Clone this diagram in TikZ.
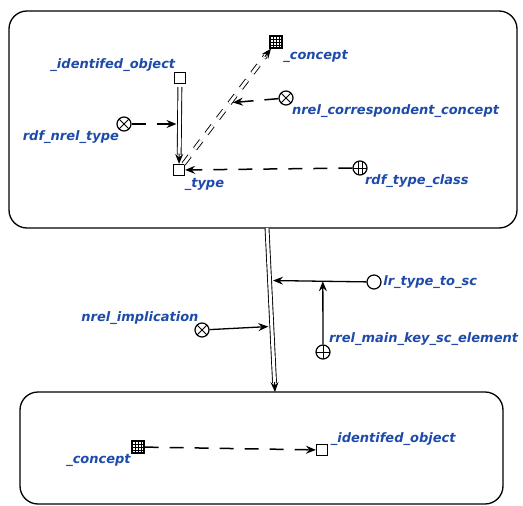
\documentclass[tikz,border=0pt]{standalone}
\usepackage{fontspec}
\setsansfont{DejaVu Sans}
\usepackage{tikz}
\usetikzlibrary{shapes, positioning}
\usetikzlibrary{calc}
\usetikzlibrary{arrows.meta}
\definecolor{scblue}{RGB}{30,75,170}

\tikzset{
	sclabel/.style={text=scblue, font=\sffamily\bfseries\itshape\fontsize{13}{15}\selectfont, inner sep=0.5pt},
	scframe/.style={draw, line width=1.3pt, rounded corners=18pt},
	scconst/.style={draw, line width=1.2pt, rectangle, minimum size=11pt, inner sep=0pt},
	scclass/.style={scconst, minimum size=12pt, path picture={
		\foreach \t in {0.25,0.5,0.75} {
			\draw[line width=0.3pt] ($(path picture bounding box.north west)!\t!(path picture bounding box.north east)$) -- ($(path picture bounding box.south west)!\t!(path picture bounding box.south east)$);
			\draw[line width=0.3pt] ($(path picture bounding box.north west)!\t!(path picture bounding box.south west)$) -- ($(path picture bounding box.north east)!\t!(path picture bounding box.south east)$);
		}}},
	screl/.style={draw, circle, line width=1.2pt, minimum size=14pt, inner sep=0pt, path picture={
		\draw[line width=1pt] (path picture bounding box.north west) -- (path picture bounding box.south east) (path picture bounding box.north east) -- (path picture bounding box.south west);
		}},
	scrole/.style={draw, circle, line width=1.2pt, minimum size=14pt, inner sep=0pt, path picture={
		\draw[line width=1pt] (path picture bounding box.north) -- (path picture bounding box.south) (path picture bounding box.east) -- (path picture bounding box.west);
		}},
	sctypeclass/.style={draw, circle, line width=1.2pt, minimum size=14pt, inner sep=0pt, path picture={
		\foreach \t in {0.35,0.65} {
			\draw[line width=0.8pt] ($(path picture bounding box.north west)!\t!(path picture bounding box.north east)$) -- ($(path picture bounding box.south west)!\t!(path picture bounding box.south east)$);
		}
		\draw[line width=0.8pt] (path picture bounding box.east) -- (path picture bounding box.west);
		}},
	sctuple/.style={draw, circle, line width=1.2pt, minimum size=14pt, inner sep=0pt},
	arcsolid/.style={line width=1.3pt, -{Stealth[length=10pt, width=8pt, inset=3.5pt]}},
	arcaccess/.style={arcsolid, line width=1.5pt, dash pattern=on 14pt off 11pt},
	arcpair/.style={double, line width=0.9pt, double distance=3pt, shorten >=9pt},
	arcvarpair/.style={arcpair, dash pattern=on 10pt off 9pt},
	pairtip/.style={line width=1pt, -{Stealth[length=10pt, width=8pt, inset=3.5pt]}}
}

\begin{document}
\begin{tikzpicture}[x=1pt, y=-1pt]
	\useasboundingbox (0,0) rectangle (523,506);
	\node[scframe, minimum width=508pt, minimum height=217pt] (ctx1) at (263,119.5) {};
	\node[scframe, minimum width=483pt, minimum height=112pt] (ctx2) at (261.5,448) {};

	\node[scconst] (idobj) at (180,78) {};
	\node[scclass] (concept) at (276,42) {};
	\node[screl] (corr) at (286,98) {};
	\node[screl] (nreltype) at (124,124) {};
	\node[scconst] (type) at (179,170) {};
	\node[sctypeclass] (typeclass) at (360,168) {};
	\node[sctuple] (lr) at (374,282) {};
	\node[scrole] (rrel) at (323,352) {};
	\node[screl] (impl) at (202,330) {};
	\node[scclass] (concept2) at (138,447) {};
	\node[scconst] (idobj2) at (322,450) {};

	\node[sclabel, above left=0pt and -2pt of idobj] (idobj-lbl) {\_identifed\_object};
	\node[sclabel, below right=1pt and 0pt of concept] (concept-lbl) {\_concept};
	\node[sclabel, below right=1pt and 0pt of corr] (corr-lbl) {nrel\_correspondent\_concept};
	\node[sclabel, below left=1pt and -1pt of nreltype] (nreltype-lbl) {rdf\_nrel\_type};
	\node[sclabel, below right=2pt and -1pt of type] (type-lbl) {\_type};
	\node[sclabel, below right=1pt and -1pt of typeclass] (typeclass-lbl) {rdf\_type\_class};
	\node[sclabel, right=1pt of lr] (lr-lbl) {lr\_type\_to\_sc};
	\node[sclabel, above right=0pt and 0pt of rrel] (rrel-lbl) {rrel\_main\_key\_sc\_element};
	\node[sclabel, above left=-1pt and -2.5pt of impl] (impl-lbl) {nrel\_implication};
	\node[sclabel, below left=0pt and 0pt of concept2] (concept2-lbl) {\_concept};
	\node[sclabel, above right=-2pt and 2pt of idobj2] (idobj2-lbl) {\_identifed\_object};

	\draw[arcpair, shorten <=3pt] (idobj) -- coordinate[pos=0.5] (m1) (type);
	\draw[pairtip] ($(type)!16.5pt!(idobj)$) -- (type);
	\draw[arcaccess, shorten >=3pt] (nreltype) -- (m1);
	\draw[arcvarpair] (type) -- coordinate[pos=0.53] (m2) (concept);
	\draw[pairtip] ($(concept)!18.5pt!(type)$) -- (concept);
	\draw[arcaccess, shorten >=3pt] (corr) -- (m2);
	\draw[arcaccess] (typeclass) -- (type);

	\coordinate (implsrc) at (267,228);
	\coordinate (impldst) at (275,392);
	\draw[arcpair] (implsrc) -- coordinate[pos=0.32] (m3) coordinate[pos=0.6] (m4) (impldst);
	\draw[pairtip] ($(impldst)!10pt!(implsrc)$) -- (impldst);
	\draw[arcsolid, shorten >=3.5pt] (lr) -- coordinate[pos=0.45] (m5) (m3);
	\draw[arcsolid] (rrel) -- (m5);
	\draw[arcsolid, shorten >=3.5pt] (impl) -- (m4);

	\draw[arcaccess] (concept2) -- (idobj2);
\end{tikzpicture}
\end{document}
